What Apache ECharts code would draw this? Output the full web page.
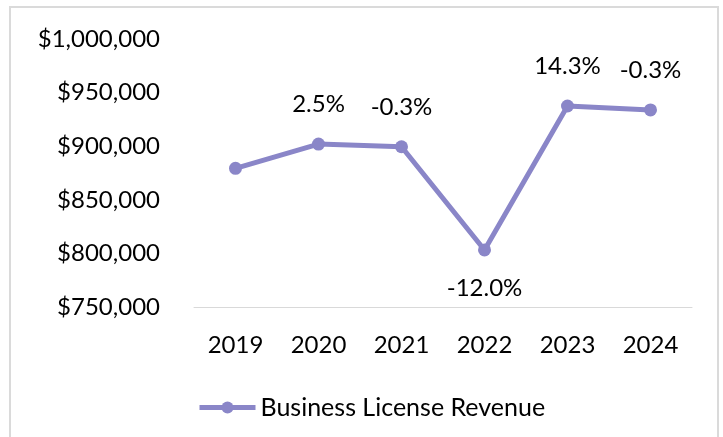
<!DOCTYPE html>
<html>
<head>
<meta charset="utf-8">
<script src="https://cdn.jsdelivr.net/npm/echarts@6/dist/echarts.min.js"></script>
<style>
  html, body { margin: 0; padding: 0; background: #fff; }
  #chart { width: 723px; height: 437px; }
</style>
</head>
<body>
<div id="chart"></div>
<script>
// data
const years = ['2019', '2020', '2021', '2022', '2023', '2024'];
const revenue = [879400, 902000, 899500, 803200, 937500, 933800];
const changeLabels = ['', '2.5%', '-0.3%', '-12.0%', '14.3%', '-0.3%'];
const labelBelow = [false, false, false, true, false, false];
const yTicks = { min: 750000, max: 1000000, step: 50000 };

const lineColor = '#8a86c8';
const font = 'Lato';

const chart = echarts.init(document.getElementById('chart'));

// build points, label below only for the dip
const points = revenue.map((v, i) => ({
  value: v,
  label: {
    show: changeLabels[i] !== '',
    formatter: changeLabels[i],
    position: labelBelow[i] ? 'bottom' : 'top',
    distance: labelBelow[i] ? 20 : 21
  }
}));

chart.setOption({
  animation: false,
  textStyle: { fontFamily: font },
  graphic: [{
    type: 'rect',
    shape: { x: 10, y: 7, width: 708, height: 440 },
    style: { fill: 'none', stroke: '#dadada', lineWidth: 2 },
    silent: true
  }],
  grid: { left: 194, right: 31, top: 39, bottom: 130 },
  xAxis: {
    type: 'category',
    data: years,
    boundaryGap: true,
    axisLine: { lineStyle: { color: '#d9d9d9', width: 1 } },
    axisTick: { show: false },
    axisLabel: { color: '#000', fontSize: 24, fontFamily: font, lineHeight: 24, margin: 26 }
  },
  yAxis: {
    type: 'value',
    min: yTicks.min,
    max: yTicks.max,
    interval: yTicks.step,
    splitLine: { show: false },
    axisLine: { show: false },
    axisTick: { show: false },
    axisLabel: {
      color: '#000', fontSize: 24, fontFamily: font, margin: 34,
      formatter: v => '$' + v.toLocaleString('en-US')
    }
  },
  legend: {
    left: 192,
    top: 390,
    itemWidth: 56,
    itemHeight: 15,
    itemGap: 5,
    lineStyle: { width: 5 },
    textStyle: { color: '#000', fontSize: 25, fontFamily: font },
    data: ['Business License Revenue']
  },
  series: [{
    name: 'Business License Revenue',
    type: 'line',
    data: points,
    symbol: 'circle',
    symbolSize: 13,
    itemStyle: { color: lineColor },
    lineStyle: { color: lineColor, width: 5 },
    label: { color: '#000', fontSize: 24, fontFamily: font, lineHeight: 24 }
  }]
});
</script>
</body>
</html>
